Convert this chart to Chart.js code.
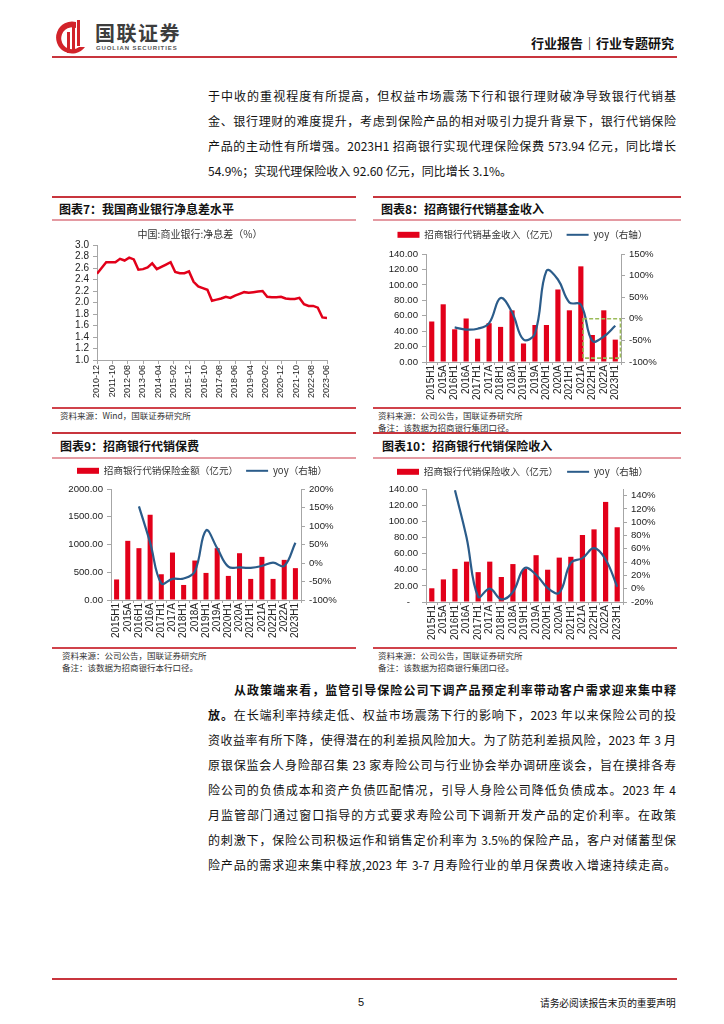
<!DOCTYPE html>
<html lang="zh-CN">
<head>
<meta charset="utf-8">
<title>招商银行代销业务</title>
<script src="https://cdn.jsdelivr.net/npm/chart.js@4.4.1/dist/chart.umd.min.js"></script>
<style>
  html, body { margin: 0; padding: 0; background: #fff; }
  #page { position: relative; width: 724px; height: 1024px; overflow: hidden;
          font-family: "Noto Sans CJK SC", sans-serif; color: #111; }
  .rule { position: absolute; height: 0; }
  .line { position: absolute; left: 208px; width: 468px; font-size: 12px; line-height: 16px;
          white-space: nowrap; text-align: justify; text-align-last: justify; }
  .cap { position: absolute; font-size: 12px; line-height: 14px; font-weight: bold; }
  .src { position: absolute; font-size: 8.5px; line-height: 10px; color: #333; }
  canvas { position: absolute; }
</style>
</head>
<body>
<div id="page">
  <!-- header -->
  <svg style="position:absolute;left:52px;top:19px" width="36" height="36" viewBox="0 0 36 36">
    <path d="M24 3 A16 16 0 1 0 33 28 L27 28 A11 11 0 1 1 24 9 Z" fill="#d2232a"/>
    <rect x="15" y="13" width="3" height="21" fill="#d2232a"/>
    <rect x="20" y="7" width="3" height="25" fill="#d2232a"/>
    <rect x="25" y="1" width="3" height="26" fill="#d2232a"/>
  </svg>
  <div style="position:absolute;left:95px;top:22px;font-size:20px;line-height:22px;font-weight:bold;color:#3d3d3d;letter-spacing:1.5px">国联证券</div>
  <div style="position:absolute;left:96px;top:45px;font-family:'Liberation Sans';font-size:6px;line-height:6px;font-weight:bold;color:#555;letter-spacing:0.9px">GUOLIAN SECURITIES</div>
  <div style="position:absolute;left:531px;top:35px;font-size:13px;line-height:16px;font-weight:bold">行业报告｜行业专题研究</div>
  <div class="rule" style="left:52px;width:625px;top:56px;border-top:2px solid #c8353d"></div>

  <!-- upper paragraph -->
  <div class="line" style="top:88px">于中收的重视程度有所提高，但权益市场震荡下行和银行理财破净导致银行代销基</div>
  <div class="line" style="top:113px">金、银行理财的难度提升，考虑到保险产品的相对吸引力提升背景下，银行代销保险</div>
  <div class="line" style="top:138px">产品的主动性有所增强。2023H1 招商银行实现代理保险保费 573.94 亿元，同比增长</div>
  <div class="line" style="top:163px;text-align:left;text-align-last:left">54.9%；实现代理保险收入 92.60 亿元，同比增长 3.1%。</div>

  <!-- chart frames, top row -->
  <div class="rule" style="left:52px;width:304px;top:196px;border-top:2px solid #c8353d"></div>
  <div class="rule" style="left:373px;width:308px;top:196px;border-top:2px solid #c8353d"></div>
  <div class="cap" style="left:59px;top:202px">图表7：我国商业银行净息差水平</div>
  <div class="cap" style="left:381px;top:202px">图表8：招商银行代销基金收入</div>
  <div class="rule" style="left:52px;width:304px;top:219px;border-top:2px solid #e49aa2"></div>
  <div class="rule" style="left:373px;width:308px;top:219px;border-top:2px solid #e49aa2"></div>
  <canvas id="nim" width="320" height="180" style="left:40px;top:222px"></canvas>
  <canvas id="fund" width="311" height="182" style="left:367px;top:222px"></canvas>
  <div class="rule" style="left:52px;width:304px;top:407px;border-top:2px solid #d0434b"></div>
  <div class="rule" style="left:373px;width:308px;top:407px;border-top:2px solid #d0434b"></div>
  <div class="src" style="left:60px;top:410px">资料来源：Wind，国联证券研究所</div>
  <div class="src" style="left:378px;top:410px">资料来源：公司公告，国联证券研究所</div>
  <div class="src" style="left:378px;top:422px">备注：该数据为招商银行集团口径。</div>

  <!-- chart frames, bottom row -->
  <div class="rule" style="left:52px;width:304px;top:432px;border-top:2px solid #c8353d"></div>
  <div class="rule" style="left:373px;width:308px;top:432px;border-top:2px solid #c8353d"></div>
  <div class="cap" style="left:60px;top:439px">图表9：招商银行代销保费</div>
  <div class="cap" style="left:382px;top:439px">图表10：招商银行代销保险收入</div>
  <div class="rule" style="left:52px;width:304px;top:457px;border-top:2px solid #e49aa2"></div>
  <div class="rule" style="left:373px;width:308px;top:457px;border-top:2px solid #e49aa2"></div>
  <canvas id="premium" width="324" height="186" style="left:40px;top:458px"></canvas>
  <canvas id="insIncome" width="311" height="188" style="left:367px;top:458px"></canvas>
  <div class="rule" style="left:52px;width:304px;top:647px;border-top:2px solid #d0434b"></div>
  <div class="rule" style="left:373px;width:304px;top:647px;border-top:2px solid #d0434b"></div>
  <div class="src" style="left:62px;top:650px">资料来源：公司公告，国联证券研究所</div>
  <div class="src" style="left:62px;top:662px">备注：该数据为招商银行本行口径。</div>
  <div class="src" style="left:378px;top:650px">资料来源：公司公告，国联证券研究所</div>
  <div class="src" style="left:378px;top:662px">备注：该数据为招商银行集团口径。</div>

  <!-- lower paragraph -->
  <div class="line" style="top:682px;left:234px;width:442px;font-weight:bold">从政策端来看，监管引导保险公司下调产品预定利率带动客户需求迎来集中释</div>
  <div class="line" style="top:707px"><b>放。</b>在长端利率持续走低、权益市场震荡下行的影响下，2023 年以来保险公司的投</div>
  <div class="line" style="top:732px">资收益率有所下降，使得潜在的利差损风险加大。为了防范利差损风险，2023 年 3 月</div>
  <div class="line" style="top:757px">原银保监会人身险部召集 23 家寿险公司与行业协会举办调研座谈会，旨在摸排各寿</div>
  <div class="line" style="top:782px">险公司的负债成本和资产负债匹配情况，引导人身险公司降低负债成本。2023 年&nbsp;4</div>
  <div class="line" style="top:807px">月监管部门通过窗口指导的方式要求寿险公司下调新开发产品的定价利率。在政策</div>
  <div class="line" style="top:832px">的刺激下，保险公司积极运作和销售定价利率为 3.5%的保险产品，客户对储蓄型保</div>
  <div class="line" style="top:857px">险产品的需求迎来集中释放,2023 年 3-7 月寿险行业的单月保费收入增速持续走高。</div>

  <!-- footer -->
  <div class="rule" style="left:52px;width:625px;top:978px;border-top:2px solid #c8353d"></div>
  <div style="position:absolute;left:358px;top:995px;font-family:'Liberation Sans';font-size:11px;line-height:14px">5</div>
  <div style="position:absolute;left:540px;top:997px;font-size:9.7px;line-height:12px">请务必阅读报告末页的重要声明</div>
</div>

<script>
// ---- data ----
const nimTitle = '中国:商业银行:净息差（%）';
const nimPeriods = [
  '2010-12',
  '2011-03', '2011-06', '2011-09', '2011-12',
  '2012-03', '2012-06', '2012-09', '2012-12',
  '2013-03', '2013-06', '2013-09', '2013-12',
  '2014-03', '2014-06', '2014-09', '2014-12',
  '2015-03', '2015-06', '2015-09', '2015-12',
  '2016-03', '2016-06', '2016-09', '2016-12',
  '2017-03', '2017-06', '2017-09', '2017-12',
  '2018-03', '2018-06', '2018-09', '2018-12',
  '2019-03', '2019-06', '2019-09', '2019-12',
  '2020-03', '2020-06', '2020-09', '2020-12',
  '2021-03', '2021-06', '2021-09', '2021-12',
  '2022-03', '2022-06', '2022-09', '2022-12',
  '2023-03', '2023-06'
];
const nimValues = [
  2.50,
  2.60, 2.70, 2.70, 2.70,
  2.76, 2.73, 2.78, 2.75,
  2.57, 2.58, 2.61, 2.68,
  2.58, 2.62, 2.66, 2.70,
  2.53, 2.51, 2.51, 2.54,
  2.36, 2.28, 2.25, 2.22,
  2.03, 2.05, 2.07, 2.10,
  2.08, 2.12, 2.15, 2.18,
  2.17, 2.18, 2.19, 2.20,
  2.10, 2.09, 2.09, 2.10,
  2.07, 2.06, 2.06, 2.08,
  1.97, 1.94, 1.94, 1.91,
  1.74, 1.73
];

const periods = ['2015H1', '2015A', '2016H1', '2016A', '2017H1', '2017A', '2018H1', '2018A',
  '2019H1', '2019A', '2020H1', '2020A', '2021H1', '2021A', '2022H1', '2022A', '2023H1'];

const fundIncome = [52.5, 74.8, 42.4, 56.4, 30.2, 50.3, 45.5, 66.9, 24.0, 48.0, 48.0, 94.0, 67.0, 124.0, 35.0, 67.0, 29.0];
const fundYoy = [null, null, -20, -25, -23, -10, 48, 15, -48, -34, 111, 91, 38, 33, -51, -41, -16];
// dashed highlight over 2022H1-2023H1, in category index / right-axis % units
const fundHighlight = { from: 13.2, to: 16.45, top: 0, bottom: -91 };

const premiumSales = [370, 1066, 934, 1536, 464, 855, 271, 711, 488, 934, 434, 843, 380, 777, 380, 723, 574];
const premiumYoy = [null, null, 153, 55, -55, -43, -42, -23, 88, 40, -10, -12, -13, -8, 1, -8, 55];

const insIncome = [17, 28, 41, 50, 37, 50, 31, 47, 41, 58, 40, 55, 56, 83, 90, 124, 92.6];
const insIncomeYoy = [null, null, 148, 77, -12, 0, -16, -5, 31, 21, 1, -6, 39, 46, 61, 44, 3];

// ---- styling ----
const RED = '#e2001a';
const BLUE = '#2b5c8a';
const AXIS = '#a6a6a6';
const CJK = '"Noto Sans CJK SC", sans-serif';

Chart.defaults.font.family = '"Liberation Sans", "Noto Sans CJK SC", sans-serif';
Chart.defaults.color = '#222';
Chart.defaults.animation = false;

function monthOffset(p) {
  const [y, m] = p.split('-').map(Number);
  return (y * 12 + m) - (2010 * 12 + 12);
}
function monthLabel(v) {
  const t = 2010 * 12 + 11 + v;
  const y = Math.floor(t / 12);
  const m = t % 12 + 1;
  return y + '-' + String(m).padStart(2, '0');
}

// give the legend a bit more room below it
function legendGap(px) {
  return {
    id: 'legendGap',
    afterInit(chart) {
      const legend = chart.legend;
      const fit = legend.fit.bind(legend);
      legend.fit = () => { fit(); legend.height += px; };
    }
  };
}

const highlightBox = {
  id: 'highlightBox',
  afterDatasetsDraw(chart, args, opts) {
    if (!opts.box) return;
    const { ctx, scales } = chart;
    const b = opts.box;
    const x1 = scales.x.getPixelForValue(b.from);
    const x2 = scales.x.getPixelForValue(b.to);
    const y1 = scales.y1.getPixelForValue(b.top);
    const y2 = scales.y1.getPixelForValue(b.bottom);
    ctx.save();
    ctx.strokeStyle = '#9bbb59';
    ctx.lineWidth = 1.6;
    ctx.setLineDash([4, 2]);
    ctx.strokeRect(x1, y1, x2 - x1, y2 - y1);
    ctx.restore();
  }
};

function legendItems(chart) {
  const items = Chart.defaults.plugins.legend.labels.generateLabels(chart);
  items.forEach(it => {
    const ds = chart.data.datasets[it.datasetIndex];
    if (ds.type === 'line') {
      it.pointStyle = 'line';
      it.lineWidth = 2;
      it.strokeStyle = ds.borderColor;
    } else {
      it.pointStyle = 'rect';
      it.lineWidth = 0;
    }
  });
  return items.sort((a, b) => a.datasetIndex - b.datasetIndex);
}

function sideAxis(pos, min, max, step, width, fmt, noBounds) {
  return {
    position: pos, min, max,
    afterFit: s => { s.width = width; },
    border: { color: AXIS },
    grid: { drawOnChartArea: false, tickLength: 4, color: AXIS },
    ticks: { stepSize: step, autoSkip: false, includeBounds: !noBounds, padding: 4,
             font: { size: 9.6 }, color: '#222', callback: fmt }
  };
}

function comboChart(id, o) {
  return new Chart(document.getElementById(id), {
    type: 'bar',
    data: {
      labels: periods,
      datasets: [
        { type: 'bar', label: o.barLabel, data: o.bars, backgroundColor: RED, yAxisID: 'y',
          order: 1, barPercentage: 0.45, categoryPercentage: 1 },
        { type: 'line', label: 'yoy（右轴）', data: o.yoy, borderColor: BLUE, borderWidth: 2.2,
          pointRadius: 0, tension: 0.4, yAxisID: 'y1', order: 0 }
      ]
    },
    options: {
      responsive: false,
      animation: false,
      plugins: {
        tooltip: { enabled: false },
        legend: {
          labels: {
            usePointStyle: true, pointStyleWidth: 22, boxHeight: 6, padding: o.legendPad,
            font: { size: 9.6, family: CJK }, color: '#333', generateLabels: legendItems
          }
        },
        highlightBox: { box: o.box || null }
      },
      scales: {
        x: {
          afterFit: s => { s.height = o.xHeight; },
          border: { color: AXIS },
          grid: { drawOnChartArea: false, tickLength: 3, color: AXIS, offset: true },
          ticks: { autoSkip: false, minRotation: 90, maxRotation: 90, padding: 0, font: { size: 10 }, color: '#222' }
        },
        y: sideAxis('left', o.left[0], o.left[1], o.left[2], o.leftWidth, o.leftFmt),
        y1: sideAxis('right', o.right[0], o.right[1], o.right[2], o.rightWidth, v => v + '%', o.rightNoBounds)
      }
    },
    plugins: [legendGap(o.gap), highlightBox]
  });
}

// ---- chart 7: net interest margin ----
new Chart(document.getElementById('nim'), {
  type: 'line',
  data: {
    datasets: [{
      data: nimPeriods.map((p, i) => ({ x: monthOffset(p), y: nimValues[i] })),
      borderColor: RED, borderWidth: 2.5, pointRadius: 0, tension: 0
    }]
  },
  options: {
    responsive: false,
    animation: false,
    layout: { padding: { left: 33, right: 33 } },
    plugins: {
      legend: { display: false },
      tooltip: { enabled: false },
      title: { display: true, text: nimTitle, color: '#333',
               font: { size: 10, weight: 'normal', family: CJK }, padding: { top: 6, bottom: 5 } }
    },
    scales: {
      x: {
        type: 'linear', min: 0, max: 150,
        afterFit: s => { s.height = 42; },
        border: { color: AXIS },
        grid: { drawOnChartArea: false, tickLength: 4, color: AXIS },
        ticks: { stepSize: 10, autoSkip: false, minRotation: 90, maxRotation: 90, padding: 1,
                 font: { size: 9 }, color: '#222', callback: v => monthLabel(v) }
      },
      y: {
        min: 1, max: 3,
        afterFit: s => { s.width = 24; },
        border: { color: AXIS },
        grid: { drawOnChartArea: false, tickLength: 4, color: AXIS },
        ticks: { stepSize: 0.2, autoSkip: false, padding: 4, font: { size: 10 }, color: '#222',
                 callback: v => v.toFixed(1) }
      }
    }
  }
});

// ---- chart 8: fund distribution income ----
comboChart('fund', {
  barLabel: '招商银行代销基金收入（亿元）', bars: fundIncome, yoy: fundYoy,
  left: [0, 140, 20], leftWidth: 59, leftFmt: v => v.toFixed(2),
  right: [-100, 150, 50], rightWidth: 57,
  xHeight: 42, legendPad: 8, gap: 4.4, box: fundHighlight
});

// ---- chart 9: insurance premium sold ----
comboChart('premium', {
  barLabel: '招商银行代销保险金额（亿元）', bars: premiumSales, yoy: premiumYoy,
  left: [0, 2000, 500], leftWidth: 71, leftFmt: v => v.toFixed(2),
  right: [-100, 200, 50], rightWidth: 63,
  xHeight: 44, legendPad: 8, gap: 3.4
});

// ---- chart 10: insurance distribution income ----
comboChart('insIncome', {
  barLabel: '招商银行代销保险收入（亿元）', bars: insIncome, yoy: insIncomeYoy,
  left: [0, 140, 20], leftWidth: 59, leftFmt: v => (v === 0 ? '-   ' : v.toFixed(2)),
  right: [-20, 150, 20], rightWidth: 55, rightNoBounds: true,
  xHeight: 44, legendPad: 9, gap: 2.4
});
</script>
</body>
</html>
